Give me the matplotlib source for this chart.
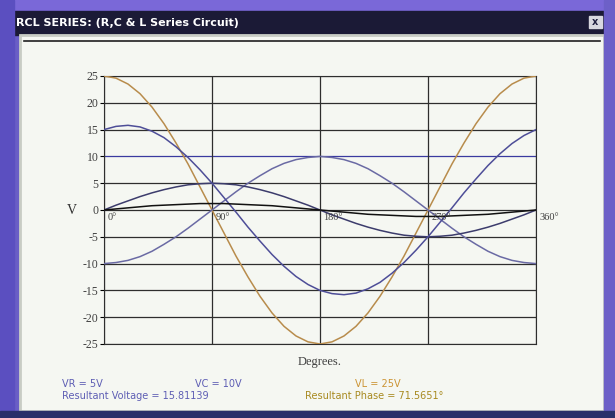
import matplotlib
matplotlib.use("Agg")
import matplotlib.pyplot as plt
from matplotlib.patches import Rectangle

# values, every 10 degrees
degrees = list(range(0, 361, 10))
v_l = [25, 24.6, 23.5, 21.7, 19.2, 16.1, 12.5, 8.6, 4.3, 0, -4.3, -8.6, -12.5, -16.1, -19.2,
       -21.7, -23.5, -24.6, -25, -24.6, -23.5, -21.7, -19.2, -16.1, -12.5, -8.6, -4.3, 0,
       4.3, 8.6, 12.5, 16.1, 19.2, 21.7, 23.5, 24.6, 25]
v_c = [-10, -9.8, -9.4, -8.7, -7.7, -6.4, -5, -3.4, -1.7, 0, 1.7, 3.4, 5, 6.4, 7.7, 8.7,
       9.4, 9.8, 10, 9.8, 9.4, 8.7, 7.7, 6.4, 5, 3.4, 1.7, 0, -1.7, -3.4, -5, -6.4, -7.7,
       -8.7, -9.4, -9.8, -10]
v_r = [0, 0.9, 1.7, 2.5, 3.2, 3.8, 4.3, 4.7, 4.9, 5, 4.9, 4.7, 4.3, 3.8, 3.2, 2.5, 1.7,
       0.9, 0, -0.9, -1.7, -2.5, -3.2, -3.8, -4.3, -4.7, -4.9, -5, -4.9, -4.7, -4.3, -3.8,
       -3.2, -2.5, -1.7, -0.9, 0]
v_res = [15, 15.6, 15.8, 15.5, 14.7, 13.5, 11.8, 9.8, 7.5, 5, 2.3, -0.4, -3.2, -5.8, -8.3,
         -10.5, -12.4, -13.9, -15, -15.6, -15.8, -15.5, -14.7, -13.5, -11.8, -9.8, -7.5, -5,
         -2.3, 0.4, 3.2, 5.8, 8.3, 10.5, 12.4, 13.9, 15]
current = [0, 0.2, 0.4, 0.6, 0.8, 0.9, 1.0, 1.1, 1.2, 1.2, 1.2, 1.1, 1.0, 0.9, 0.8, 0.6, 0.4,
           0.2, 0, -0.2, -0.4, -0.6, -0.8, -0.9, -1.0, -1.1, -1.2, -1.2, -1.2, -1.1, -1.0,
           -0.9, -0.8, -0.6, -0.4, -0.2, 0]

y_ticks = [25, 20, 15, 10, 5, 0, -5, -10, -15, -20, -25]
x_marks = [0, 90, 180, 270, 360]
x_labels = ["0°", "90°", "180°", "270°", "360°"]

title = "RCL SERIES: (R,C & L Series Circuit)"
W, H = 615, 418

fig = plt.figure(figsize=(W / 100, H / 100), dpi=100)
fig.patch.set_facecolor("#6a5ec6")

# window chrome drawn in pixel coords
bg = fig.add_axes([0, 0, 1, 1], zorder=0)
bg.set_xlim(0, W)
bg.set_ylim(H, 0)
bg.axis("off")
bg.add_patch(Rectangle((0, 0), W, 12, color="#7a68d8"))
bg.add_patch(Rectangle((10, 11), 595, 24, color="#1b1a36"))
bg.add_patch(Rectangle((20, 35), 584, 376, color="#f5f7f2"))
bg.add_patch(Rectangle((20, 35), 584, 376, fill=False, ec="#c8ccc4", lw=2))
bg.plot([24, 600], [41, 41], color="#202020", lw=1.2)
bg.add_patch(Rectangle((0, 0), 14, H, color="#5b4fc0"))
bg.add_patch(Rectangle((604, 0), 11, H, color="#6d60c8"))
bg.add_patch(Rectangle((0, 411), W, 7, color="#2a2f6a"))
bg.add_patch(Rectangle((589, 16), 13, 12, color="#d8d8e0"))
bg.text(595, 22, "x", color="#202040", fontsize=7, ha="center", va="center", weight="bold")
bg.text(16, 23, title, color="white", fontsize=8, weight="bold", va="center")

bg.text(72, 210, "V", fontsize=10, family="Liberation Serif", ha="center", va="center", color="#303030")
bg.text(320, 362, "Degrees.", fontsize=9, family="Liberation Serif", ha="center", va="center", color="#404040")

blue_txt = "#5e5eb4"
gold_txt = "#cc9434"
bg.text(62, 384, "VR = 5V", fontsize=7, color=blue_txt, va="center")
bg.text(195, 384, "VC = 10V", fontsize=7, color=blue_txt, va="center")
bg.text(355, 384, "VL = 25V", fontsize=7, color=gold_txt, va="center")
bg.text(62, 396, "Resultant Voltage = 15.81139", fontsize=7, color=blue_txt, va="center")
bg.text(305, 396, "Resultant Phase = 71.5651°", fontsize=7, color="#a88a20", va="center")

ax = fig.add_axes([104 / W, 1 - 344 / H, 432 / W, 268 / H], zorder=1)
ax.set_facecolor("none")
ax.set_xlim(0, 360)
ax.set_ylim(-25, 25)

for y in y_ticks:
    ax.axhline(y, color="#3a3aa0" if y == 10 else "#2e2e2e", lw=0.9, zorder=1)
for x in x_marks:
    ax.axvline(x, color="#2e2e2e", lw=0.9, zorder=1)

ax.plot(degrees, v_l, color="#b88c4c", lw=1.1, zorder=3)
ax.plot(degrees, v_c, color="#6a6aa4", lw=1.1, zorder=3)
ax.plot(degrees, v_r, color="#3c3c6c", lw=1.1, zorder=3)
ax.plot(degrees, v_res, color="#4e4e98", lw=1.1, zorder=3)
ax.plot(degrees, current, color="#111111", lw=1.1, zorder=3)

ax.set_yticks(y_ticks)
ax.set_yticklabels([str(v) for v in y_ticks], family="Liberation Serif", fontsize=8.5, color="#404040")
ax.set_xticks([])
ax.tick_params(axis="y", length=3, pad=1)
for sp in ax.spines.values():
    sp.set_color("#2e2e2e")

for x, lab in zip(x_marks, x_labels):
    ax.text(x + 3, -0.6, lab, fontsize=7.5, family="Liberation Serif", va="top", ha="left",
            color="#404040", clip_on=False)

fig.savefig("out.png", dpi=100, facecolor=fig.get_facecolor())
